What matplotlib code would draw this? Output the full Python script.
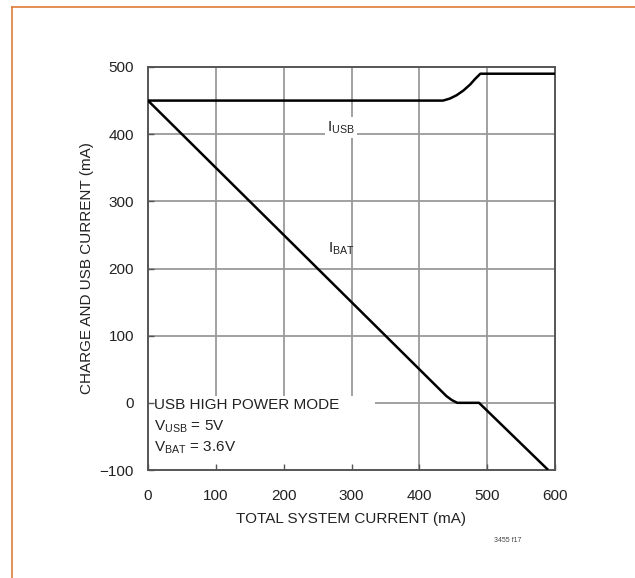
import matplotlib
matplotlib.use("Agg")
import matplotlib.pyplot as plt
from matplotlib.patches import Rectangle

plt.rcParams['font.family'] = ['Liberation Sans Narrow', 'Liberation Sans', 'DejaVu Sans']
plt.rcParams['mathtext.fontset'] = 'custom'
plt.rcParams['mathtext.rm'] = 'Liberation Sans'
plt.rcParams['mathtext.it'] = 'Liberation Sans'
plt.rcParams['mathtext.bf'] = 'Liberation Sans'

# Data
i_usb_x = [0, 435, 445, 455, 465, 475, 482, 490, 600]
i_usb_y = [450, 450, 453, 458, 465, 474, 482, 490, 490]
i_bat_x = [0, 420, 430, 440, 448, 456, 488, 590]
i_bat_y = [450, 30, 20, 10, 4, 0, 0, -100]

x_ticks = [0, 100, 200, 300, 400, 500, 600]
y_ticks = [-100, 0, 100, 200, 300, 400, 500]

fig = plt.figure(figsize=(6.35, 5.78), dpi=100)
fig.patch.set_facecolor('white')
ax = fig.add_axes([148/635, 1 - 470/578, (555-148)/635, (470-67)/578])

ax.set_xlim(0, 600)
ax.set_ylim(-100, 500)

grid_c = '#9a9a9a'
for xv in x_ticks[1:-1]:
    ax.axvline(xv, color=grid_c, lw=1.3, zorder=0.5)
for yv in y_ticks[1:-1]:
    ax.axhline(yv, color=grid_c, lw=1.3, zorder=0.5)

# white box behind mode text
ax.add_patch(Rectangle((2, -98), 333, 108, facecolor='white', edgecolor='none', zorder=1))

ax.plot(i_usb_x, i_usb_y, color='black', lw=1.8, zorder=3, solid_capstyle='butt')
ax.plot(i_bat_x, i_bat_y, color='black', lw=1.8, zorder=3, solid_capstyle='butt')

ax.set_xticks(x_ticks)
ax.set_yticks(y_ticks)
ax.tick_params(direction='in', length=4, width=1, colors='#555555', labelcolor='#222222',
               labelsize=11, top=False, right=False)
ax.tick_params(axis='x', pad=14)
ax.tick_params(axis='y', pad=10)
for s in ax.spines.values():
    s.set_color('#555555')
    s.set_linewidth(1.4)

ax.set_xlabel('TOTAL SYSTEM CURRENT (mA)', fontsize=11, color='#222222', labelpad=6)
ax.set_ylabel('CHARGE AND USB CURRENT (mA)', fontsize=11, color='#222222', labelpad=4)

ax.text(284, 410, r'I$_{\mathrm{USB}}$', fontsize=11, ha='center', va='center', color='#222222',
        bbox=dict(facecolor='white', edgecolor='none', pad=1.5), zorder=2)
ax.text(285, 230, r'I$_{\mathrm{BAT}}$', fontsize=11, ha='center', va='center', color='#222222', zorder=2)

ax.text(9, -3, 'USB HIGH POWER MODE', fontsize=11, ha='left', va='center', color='#222222', zorder=2)
ax.text(9, -36, r'V$_{\mathrm{USB}}$ = 5V', fontsize=11, ha='left', va='center', color='#222222', zorder=2)
ax.text(9, -67, r'V$_{\mathrm{BAT}}$ = 3.6V', fontsize=11, ha='left', va='center', color='#222222', zorder=2)

fig.text(508/635, 1 - 541/578, '3455 f17', fontsize=5, ha='center', va='center', color='#444444')

# orange border (top and left)
fig.add_artist(plt.Line2D([12/635, 1], [1 - 7/578, 1 - 7/578], color='#e07b39', lw=1.2, transform=fig.transFigure))
fig.add_artist(plt.Line2D([12/635, 12/635], [0, 1 - 7/578], color='#e07b39', lw=1.2, transform=fig.transFigure))

fig.savefig('out.png', dpi=100)
